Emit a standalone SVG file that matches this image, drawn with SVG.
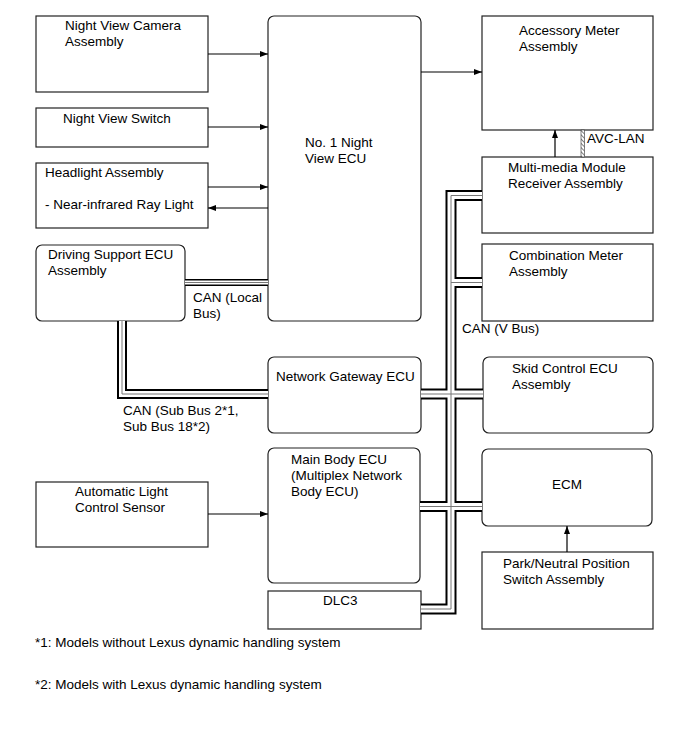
<svg xmlns="http://www.w3.org/2000/svg" width="690" height="756" viewBox="0 0 690 756">
<style>
.box{fill:#fff;stroke:#222;stroke-width:1.2}
text{font-family:"Liberation Sans",Arial,sans-serif;font-size:13.5px;fill:#000}
.ln{fill:none;stroke:#000;stroke-width:1.2}
.bo{fill:none;stroke:#000;stroke-linejoin:miter}
.bw{fill:none;stroke:#fff;stroke-linejoin:miter}
.bc{fill:none;stroke:#777;stroke-width:1}
</style>
<defs>
<marker id="ah" markerUnits="userSpaceOnUse" markerWidth="9" markerHeight="7" refX="8" refY="3" orient="auto">
<path d="M0,0 L8,3 L0,6 z" fill="#000"/>
</marker>
<pattern id="hatch" patternUnits="userSpaceOnUse" width="3" height="3" patternTransform="rotate(-45)">
<rect width="3" height="3" fill="#fff"/>
<line x1="0" y1="0" x2="0" y2="3" stroke="#555" stroke-width="1.5"/>
</pattern>
</defs>
<rect width="690" height="756" fill="#fff"/>

<g id="night-view-camera"><rect class="box" x="36" y="16" width="172" height="76"/><text x="65" y="30">Night View Camera</text><text x="65" y="46">Assembly</text></g>
<g id="night-view-switch"><rect class="box" x="36" y="108" width="172" height="39"/><text x="63" y="123">Night View Switch</text></g>
<g id="headlight"><rect class="box" x="36" y="163" width="172" height="65"/><text x="45" y="177">Headlight Assembly</text><text x="45" y="209">- Near-infrared Ray Light</text></g>
<g id="driving-support"><rect class="box" x="36" y="245" width="149" height="76" rx="6"/><text x="48" y="259">Driving Support ECU</text><text x="48" y="275">Assembly</text></g>
<g id="auto-light"><rect class="box" x="36" y="482" width="172" height="65"/><text x="75" y="496">Automatic Light</text><text x="75" y="512">Control Sensor</text></g>
<g id="night-view-ecu"><rect class="box" x="268" y="16" width="153" height="305" rx="6"/><text x="305" y="147">No. 1 Night</text><text x="305" y="163">View ECU</text></g>
<g id="network-gateway"><rect class="box" x="268" y="357" width="153" height="76" rx="6"/><text x="276" y="381">Network Gateway ECU</text></g>
<g id="main-body"><rect class="box" x="268" y="448" width="152" height="135" rx="6"/><text x="291" y="464">Main Body ECU</text><text x="291" y="480">(Multiplex Network</text><text x="291" y="496">Body ECU)</text></g>
<g id="dlc3"><rect class="box" x="268" y="591" width="153" height="38"/><text x="323" y="605">DLC3</text></g>
<g id="accessory-meter"><rect class="box" x="482" y="16" width="171" height="114"/><text x="519" y="35">Accessory Meter</text><text x="519" y="51">Assembly</text></g>
<g id="multimedia"><rect class="box" x="482" y="157" width="171" height="76"/><text x="508" y="172">Multi-media Module</text><text x="508" y="188">Receiver Assembly</text></g>
<g id="combination-meter"><rect class="box" x="482" y="244" width="171" height="77"/><text x="509" y="260">Combination Meter</text><text x="509" y="276">Assembly</text></g>
<g id="skid-control"><rect class="box" x="483" y="357" width="170" height="76" rx="6"/><text x="512" y="373">Skid Control ECU</text><text x="512" y="389">Assembly</text></g>
<g id="ecm"><rect class="box" x="482" y="449" width="170" height="77" rx="6"/><text x="567" y="489" text-anchor="middle">ECM</text></g>
<g id="park-neutral"><rect class="box" x="482" y="552" width="171" height="77"/><text x="503" y="568">Park/Neutral Position</text><text x="503" y="584">Switch Assembly</text></g>

<g id="connectors">
<path class="ln" d="M208,54 H268" marker-end="url(#ah)"/>
<path class="ln" d="M208,127 H268" marker-end="url(#ah)"/>
<path class="ln" d="M208,187 H268" marker-end="url(#ah)"/>
<path class="ln" d="M268,208 H208" marker-end="url(#ah)"/>
<path class="ln" d="M421,72 H482" marker-end="url(#ah)"/>
<path class="ln" d="M555,157 V130" marker-end="url(#ah)"/>
<path class="ln" d="M567,552 V526" marker-end="url(#ah)"/>
<path class="ln" d="M208,514 H268" marker-end="url(#ah)"/>
<rect x="581" y="130" width="3.5" height="27" fill="url(#hatch)" stroke="#333" stroke-width="0.6"/>

<g id="can-local">
<path class="bo" stroke-width="7" d="M185,282.5 H268"/>
<path class="bw" stroke-width="4" d="M185,282.5 H268"/>
<path class="bc" d="M185,282.5 H268"/>
</g>
<g id="can-sub">
<path class="bo" stroke-width="10" d="M122,321 V394 H268"/>
<path class="bw" stroke-width="6" d="M122,321 V394 H268"/>
<path class="bc" d="M122,321 V394 H268"/>
</g>
<g id="can-v">
<path class="bo" stroke-width="11" d="M482,195.5 H451 V609 H421"/>
<path class="bo" stroke-width="11" d="M451,282.5 H482"/>
<path class="bo" stroke-width="11" d="M421,394 H483"/>
<path class="bo" stroke-width="11" d="M420,506.5 H482"/>
<path class="bw" stroke-width="7" d="M482,195.5 H451 V609 H421"/>
<path class="bw" stroke-width="7" d="M451,282.5 H482"/>
<path class="bw" stroke-width="7" d="M421,394 H483"/>
<path class="bw" stroke-width="7" d="M420,506.5 H482"/>
<path class="bc" d="M482,195.5 H451 V609 H421"/>
<path class="bc" d="M451,282.5 H482"/>
<path class="bc" d="M421,394 H483"/>
<path class="bc" d="M420,506.5 H482"/>
</g>
</g>

<text x="193" y="302">CAN (Local</text>
<text x="193" y="318">Bus)</text>
<text x="123" y="415">CAN (Sub Bus 2*1,</text>
<text x="123" y="431">Sub Bus 18*2)</text>
<text x="462" y="333">CAN (V Bus)</text>
<text x="587" y="143">AVC-LAN</text>
<text x="35" y="647">*1: Models without Lexus dynamic handling system</text>
<text x="35" y="689">*2: Models with Lexus dynamic handling system</text>
</svg>
